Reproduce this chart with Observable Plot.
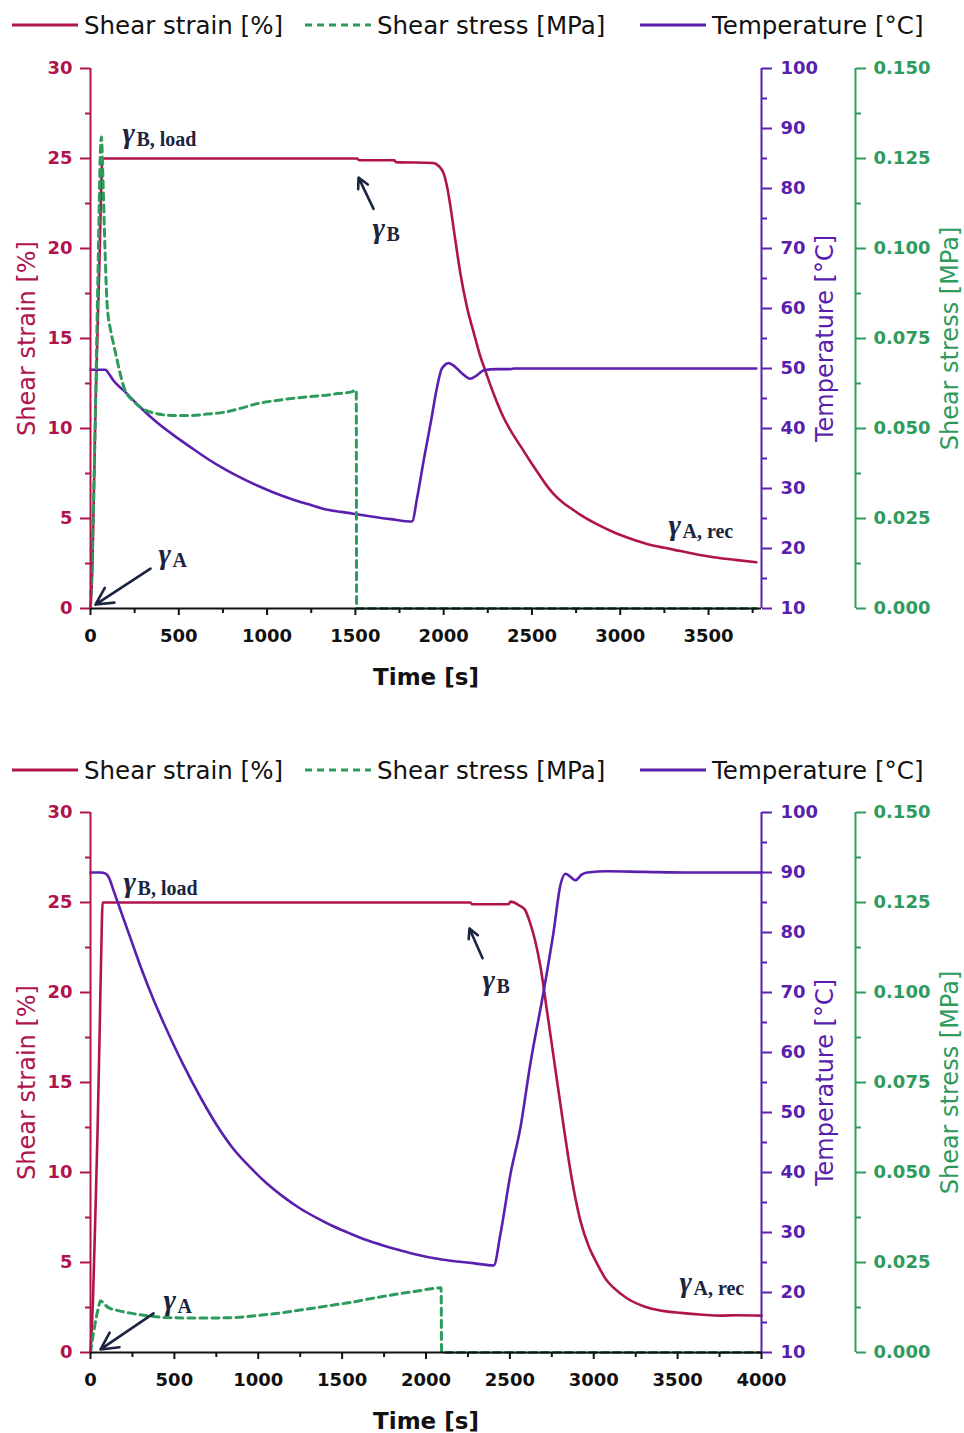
<!DOCTYPE html>
<html><head><meta charset="utf-8">
<script src="https://cdn.jsdelivr.net/npm/d3@7"></script>
<script src="https://cdn.jsdelivr.net/npm/@observablehq/plot@0.6"></script>
<style>
body{margin:0;background:#fff;font-family:"DejaVu Sans",sans-serif;}
.legend{position:relative;height:50px;width:964px;font-size:24.5px;color:#111;}
.legend .item{position:absolute;top:0;height:50px;display:flex;align-items:center;white-space:nowrap;}
.legend svg{margin-right:6px;}
svg.plot{display:block;}
</style></head><body><div id="chart"></div>
<script>
// ---------- data (time [s], value) ----------
const strainTop = [[0,0],[10,2],[28,11],[50,19],[68,25],[300,25],[800,25],[1510,25],[1520,24.9],[1720,24.9],[1730,24.8],[1940,24.75],[1970,24.6],[2001,24.15],[2020,23.4],[2039,22.3],[2067,20.4],[2095,18.6],[2133,16.7],[2171,15.3],[2208,14],[2240,13.1],[2265,12.4],[2284,11.9],[2340,10.6],[2397,9.6],[2450,8.8],[2492,8.15],[2540,7.45],[2586,6.8],[2630,6.28],[2680,5.85],[2730,5.5],[2775,5.2],[2870,4.67],[2963,4.24],[3060,3.88],[3152,3.59],[3250,3.37],[3341,3.19],[3435,3.0],[3530,2.85],[3650,2.7],[3771,2.57]];
const tempTop = [[0,49.8],[85,49.8],[100,49.3],[130,48],[189,46.3],[283,43.5],[377,41],[470,38.9],[566,36.9],[660,35],[755,33.3],[850,31.8],[944,30.5],[1040,29.3],[1133,28.3],[1230,27.4],[1321,26.6],[1420,26.1],[1510,25.7],[1600,25.3],[1699,24.9],[1821,24.5],[1850,28.5],[1887,34.7],[1930,41.5],[1960,46.5],[1990,50],[2029,50.9],[2060,50.4],[2100,49.3],[2152,48.3],[2190,48.9],[2227,49.7],[2300,49.9],[2378,49.9],[2400,50],[3771,50]];
const stressTop = [[0,0],[10,0.015],[28,0.055],[45,0.1],[56,0.127],[62,0.131],[70,0.12],[82,0.1],[94,0.0846],[115,0.077],[130,0.0736],[151,0.0689],[189,0.0615],[245,0.0575],[283,0.0559],[377,0.0541],[472,0.0536],[566,0.0536],[660,0.054],[755,0.0545],[850,0.0556],[944,0.0569],[1040,0.0577],[1133,0.0583],[1230,0.0588],[1321,0.0592],[1400,0.0597],[1472,0.0601],[1505,0.0606],[1507,0],[3771,0]];

const strainBot = [[0,0],[15,3],[30,8],[42,12.3],[55,18],[68,24],[72,25],[500,25],[2265,25],[2275,24.9],[2490,24.9],[2505,25.05],[2525,25.0],[2545,24.9],[2563,24.8],[2590,24.6],[2623,23.8],[2650,22.9],[2683,21.4],[2724,18.8],[2755,16.8],[2784,14.9],[2820,12.6],[2861,10.1],[2890,8.6],[2921,7.3],[2970,5.9],[3022,4.9],[3070,4.1],[3118,3.6],[3200,3.0],[3320,2.5],[3420,2.3],[3517,2.2],[3650,2.1],[3756,2.05],[3850,2.07],[4000,2.05]];
const tempBot = [[0,90],[60,90],[90,89.8],[107,89.3],[140,86.8],[179,83.7],[258,77.5],[300,74.2],[377,68.7],[459,63.5],[556,57.8],[656,52.5],[755,47.8],[850,44],[954,40.8],[1050,38.2],[1152,35.9],[1250,34.0],[1351,32.4],[1450,31.0],[1550,29.8],[1650,28.7],[1749,27.8],[1850,27],[1948,26.3],[2050,25.7],[2146,25.3],[2280,24.9],[2404,24.5],[2444,29.8],[2504,39.8],[2563,47.5],[2623,58.3],[2700,70],[2760,80],[2802,88],[2832,89.8],[2860,89.3],[2891,88.7],[2930,89.7],[2963,90],[3082,90.2],[3300,90.1],[3600,90],[4000,90]];
const stressBot = [[0,0],[20,0.006],[45,0.012],[60,0.0144],[80,0.0135],[110,0.0124],[160,0.0117],[256,0.0108],[360,0.0101],[459,0.0097],[600,0.0096],[750,0.0096],[855,0.0097],[1000,0.0103],[1153,0.0111],[1250,0.0118],[1352,0.0125],[1450,0.0132],[1550,0.0139],[1650,0.0148],[1750,0.0156],[1848,0.0164],[1950,0.0171],[2047,0.0178],[2090,0.018],[2093,0],[4000,0]];

// ---------- ticks ----------
const strainTicks = [0,5,10,15,20,25,30];
const strainMinor = [2.5,7.5,12.5,17.5,22.5,27.5];
const tempTicks = [10,20,30,40,50,60,70,80,90,100];
const tempMinor = [15,25,35,45,55,65,75,85,95];
const stressTicks = [0,0.025,0.05,0.075,0.1,0.125,0.15];
const stressMinor = [0.0125,0.0375,0.0625,0.0875,0.1125,0.1375];
const timeTicksTop = [0,500,1000,1500,2000,2500,3000,3500];
const timeMinorTop = [250,750,1250,1750,2250,2750,3250,3750];
const timeTicksBot = [0,500,1000,1500,2000,2500,3000,3500,4000];
const timeMinorBot = [250,750,1250,1750,2250,2750,3250,3750];

// ---------- annotations (time, strain) ----------
const labelsTop = [{t:181,s:25.67,sub:"B, load"},{t:1597,s:20.44,sub:"B"},{t:385,s:2.28,sub:"A"},{t:3273,s:3.89,sub:"A, rec"}];
const arrowsTop = [{t1:1603,s1:22.2,t2:1518,s2:23.94},{t1:340,s1:2.22,t2:28,s2:0.22}];
const labelsBot = [{t:197,s:25.39,sub:"B, load"},{t:2337,s:20.0,sub:"B"},{t:435,s:2.22,sub:"A"},{t:3511,s:3.17,sub:"A, rec"}];
const arrowsBot = [{t1:2337,s1:21.9,t2:2259,s2:23.56},{t1:376,s1:2.17,t2:60,s2:0.17}];

const legendItems = [
  {name:"Shear strain [%]", color:"#b0144d", dash:null, left:12},
  {name:"Shear stress [MPa]", color:"#2e9b5c", dash:"7,5", left:305},
  {name:"Temperature [°C]", color:"#5a1fae", dash:null, left:640}
];

const C_STRAIN = "#b0144d", C_TEMP = "#5a1fae", C_STRESS = "#2e9b5c", C_ANN = "#1b2440";
const tempToY = T => (T - 10) / 3;      // 10..100 °C -> 0..30
const stressToY = s => s * 200;         // 0..0.15 MPa -> 0..30

function legend() {
  const div = document.createElement("div");
  div.className = "legend";
  for (const it of legendItems) {
    const item = document.createElement("div");
    item.className = "item";
    item.style.left = it.left + "px";
    item.innerHTML = `<svg width="66" height="6"><line x1="0" y1="3" x2="66" y2="3" stroke="${it.color}" stroke-width="3" ${it.dash ? `stroke-dasharray="${it.dash}"` : ""}/></svg><span>${it.name}</span>`;
    div.appendChild(item);
  }
  return div;
}

function panel({strain, temp, stress, xmax, ticks, minor, labels, arrows, height, marginTop, marginBottom}) {
  const axisFont = {fontSize: 18, fontWeight: "bold"};
  return Plot.plot({
    width: 964, height, marginLeft: 90, marginRight: 203, marginTop, marginBottom,
    x: {domain: [0, xmax]},
    y: {domain: [0, 30]},
    style: {fontFamily: "'DejaVu Sans', sans-serif", background: "#fff", overflow: "visible"},
    marks: [
      Plot.line(strain, {x: d => d[0], y: d => d[1], stroke: C_STRAIN, strokeWidth: 2.6, curve: "monotone-x"}),
      Plot.line(temp, {x: d => d[0], y: d => tempToY(d[1]), stroke: C_TEMP, strokeWidth: 2.6, curve: "monotone-x"}),
      Plot.line(stress, {x: d => d[0], y: d => stressToY(d[1]), stroke: C_STRESS, strokeWidth: 3, strokeDasharray: "7,5", curve: "monotone-x"}),
      // x axis
      Plot.ruleY([0], {stroke: "#111", strokeWidth: 2}),
      Plot.axisX({ticks, tickSize: 7, tickPadding: 14, tickFormat: d => String(d), color: "#111", strokeWidth: 2, label: null, ...axisFont}),
      Plot.axisX({ticks: minor, tickSize: 5, tickFormat: () => "", color: "#111", strokeWidth: 2, label: null}),
      // left strain axis
      Plot.ruleX([0], {stroke: C_STRAIN, strokeWidth: 2}),
      Plot.axisY({ticks: strainTicks, tickSize: 10, tickPadding: 8, tickFormat: d => String(d), color: C_STRAIN, strokeWidth: 2, label: null, ...axisFont}),
      Plot.axisY({ticks: strainMinor, tickSize: 5, tickFormat: () => "", color: C_STRAIN, strokeWidth: 2, label: null}),
      // temperature axis
      Plot.ruleX([xmax], {stroke: C_TEMP, strokeWidth: 2}),
      Plot.axisY({anchor: "right", ticks: tempTicks.map(tempToY), tickFormat: v => String(Math.round(v * 3 + 10)), tickSize: 10, tickPadding: 9, color: C_TEMP, strokeWidth: 2, label: null, ...axisFont}),
      Plot.axisY({anchor: "right", ticks: tempMinor.map(tempToY), tickFormat: () => "", tickSize: 5, color: C_TEMP, strokeWidth: 2, label: null}),
      // stress axis
      Plot.ruleX([xmax], {stroke: C_STRESS, strokeWidth: 2, dx: 94}),
      Plot.axisY({anchor: "right", dx: 94, ticks: stressTicks.map(stressToY), tickFormat: v => (v / 200).toFixed(3), tickSize: 10, tickPadding: 8, color: C_STRESS, strokeWidth: 2, label: null, ...axisFont}),
      Plot.axisY({anchor: "right", dx: 94, ticks: stressMinor.map(stressToY), tickFormat: () => "", tickSize: 5, color: C_STRESS, strokeWidth: 2, label: null}),
      // axis titles
      Plot.text(["Shear strain [%]"], {frameAnchor: "left", dx: -63, rotate: -90, fontSize: 24, fill: C_STRAIN, textAnchor: "middle", lineAnchor: "middle"}),
      Plot.text(["Temperature [°C]"], {frameAnchor: "right", dx: 64, rotate: -90, fontSize: 24, fill: C_TEMP, textAnchor: "middle", lineAnchor: "middle"}),
      Plot.text(["Shear stress [MPa]"], {frameAnchor: "right", dx: 189, rotate: -90, fontSize: 24, fill: C_STRESS, textAnchor: "middle", lineAnchor: "middle"}),
      Plot.text(["Time [s]"], {frameAnchor: "bottom", dy: 76, lineAnchor: "bottom", textAnchor: "middle", fontSize: 23, fontWeight: "bold", fill: "#111"}),
      // annotations
      Plot.arrow(arrows, {x1: "t1", y1: "s1", x2: "t2", y2: "s2", stroke: C_ANN, strokeWidth: 2.6, headLength: 11, headAngle: 55}),
      Plot.text(labels, {x: "t", y: "s", text: () => "γ", textAnchor: "start", lineAnchor: "bottom", dy: -3, fontFamily: "'Liberation Serif', serif", fontStyle: "italic", fontWeight: "bold", fontSize: 30, fill: C_ANN}),
      Plot.text(labels, {x: "t", y: "s", text: "sub", textAnchor: "start", lineAnchor: "bottom", dx: 14, fontFamily: "'Liberation Serif', serif", fontWeight: "bold", fontSize: 20, fill: C_ANN})
    ]
  });
}

const root = document.getElementById("chart");
root.appendChild(legend());
root.appendChild(panel({strain: strainTop, temp: tempTop, stress: stressTop, xmax: 3800, ticks: timeTicksTop, minor: timeMinorTop, labels: labelsTop, arrows: arrowsTop, height: 695, marginTop: 18, marginBottom: 137}));
root.appendChild(legend());
root.appendChild(panel({strain: strainBot, temp: tempBot, stress: stressBot, xmax: 4000, ticks: timeTicksBot, minor: timeMinorBot, labels: labelsBot, arrows: arrowsBot, height: 638, marginTop: 17, marginBottom: 81}));
</script></body></html>
